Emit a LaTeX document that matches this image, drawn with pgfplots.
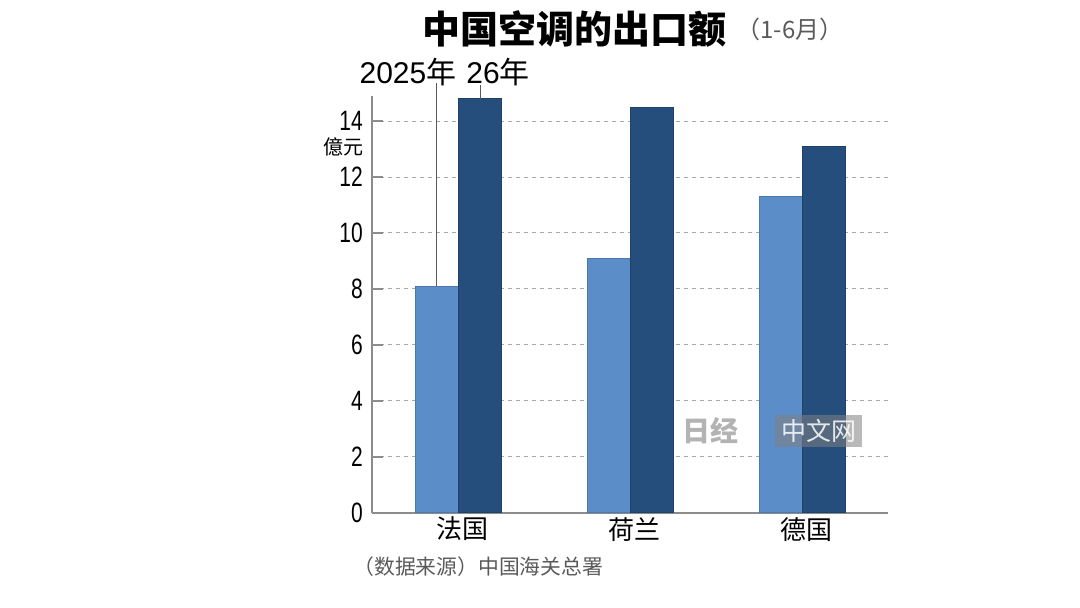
\documentclass[border=0pt]{standalone}
\usepackage{pgfplots}
\pgfplotsset{compat=1.18}
\usepackage{fontspec}
\setmainfont{Liberation Sans}
\newfontfamily\cjk{Noto Sans CJK SC}
\newfontfamily\narrow[FakeStretch=0.75]{Liberation Sans}
\definecolor{lightbar}{HTML}{5B8DC8}
\definecolor{darkbar}{HTML}{254E7D}
\definecolor{axisgray}{HTML}{8C8C8C}
\definecolor{gridgray}{HTML}{A8A8A8}
\definecolor{txtgray}{HTML}{5A5A5A}
\begin{document}
\begin{tikzpicture}
\useasboundingbox (0,0) rectangle (540pt,303.5pt);
\begin{axis}[
  at={(186pt,47.25pt)}, anchor=south west,
  scale only axis,
  width=258pt, height=208.25pt,
  xmin=-0.5, xmax=2.5, ymin=0, ymax=14.9,
  clip=false,
  axis x line*=bottom, axis y line*=left,
  axis line style={draw=axisgray, line width=1pt, -},
  ytick={0,2,4,6,8,10,12,14},
  ytick pos=left,
  tick align=inside,
  major tick length=5.5pt,
  y tick style={draw=axisgray, line width=0.9pt},
  x tick style={draw=none},
  xtick={0,1,2},
  xticklabels={法国,荷兰,德国},
  xticklabel style={font=\cjk\fontsize{13}{13}\selectfont, anchor=center, yshift=-2.8pt, xshift=2pt},
  yticklabel style={font=\narrow\fontsize{14}{14}\selectfont, anchor=east, inner sep=0pt, xshift=-4.4pt},
  /pgf/number format/assume math mode=true,
  ymajorgrids,
  grid style={draw=gridgray, line width=0.5pt, dash pattern=on 2pt off 2pt},
  ybar, bar width=0.25,
]
\addplot[fill=lightbar, draw=lightbar!85!black, line width=0.3pt, bar shift=-0.125]
  coordinates {(0,8.1) (1,9.1) (2,11.3)};
\addplot[fill=darkbar, draw=darkbar!85!black, line width=0.3pt, bar shift=0.125]
  coordinates {(0,14.8) (1,14.5) (2,13.1)};
\draw[txtgray, line width=0.5pt] (axis cs:-0.125,8.1) -- (axis cs:-0.125,15.37);
\draw[txtgray, line width=0.5pt] (axis cs:0.13,14.8) -- (axis cs:0.13,15.3);
\end{axis}
% title
\node[font=\cjk\bfseries\fontsize{19}{19}\selectfont, anchor=center] at (287pt,289.25pt) {中国空调的出口额};
\node[font=\cjk\fontsize{12}{12}\selectfont, text=txtgray, anchor=center] at (395pt,289pt) {（1-6月）};
% legend labels
\node[font=\fontsize{15}{15}\selectfont, anchor=center, inner sep=0pt] at (204pt,267.25pt) {2025{\cjk 年}};
\node[font=\fontsize{15}{15}\selectfont, anchor=center, inner sep=0pt] at (249pt,267.25pt) {26{\cjk 年}};
% unit
\node[font=\cjk\fontsize{10}{10}\selectfont, anchor=center, inner sep=0pt] at (171.5pt,230.3pt) {億元};
% source
\node[font=\cjk\fontsize{10.4}{10.4}\selectfont, text=txtgray, anchor=west, inner sep=0pt] at (176.5pt,20pt) {（数据来源）中国海关总署};
% watermark
\fill[gray, opacity=0.55] (387.5pt,80pt) rectangle (431pt,96pt);
\node[font=\cjk\fontsize{12.5}{12.5}\selectfont, text=white, opacity=0.85, anchor=center] at (409.25pt,88pt) {中文网};
\node[font=\cjk\bfseries\fontsize{14}{14}\selectfont, text=gray, opacity=0.6, anchor=center] at (355pt,88pt) {日经};
\end{tikzpicture}
\end{document}
